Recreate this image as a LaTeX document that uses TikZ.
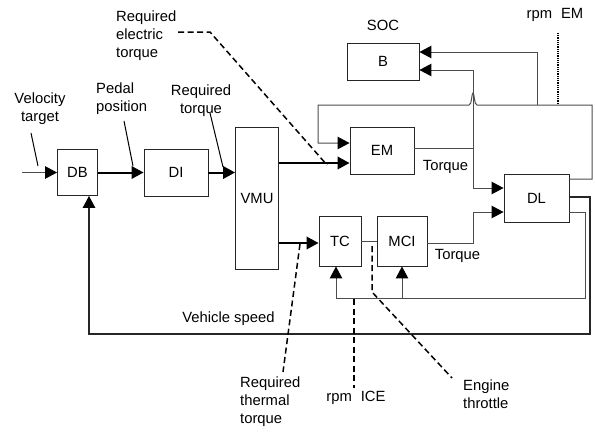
\documentclass[tikz,border=0pt]{standalone}
\usepackage{fontspec}
\setmainfont{Liberation Sans}
\usetikzlibrary{arrows.meta,calc}
\begin{document}
\begin{tikzpicture}[x=1pt,y=-1pt,
  font=\fontsize{14.8}{18}\selectfont,
  box/.style={draw=black!85,line width=0.9pt,inner sep=0pt,anchor=center},
  thin/.style={draw=black!70,line width=1pt},
  thickln/.style={draw=black,line width=2pt},
  tip/.style={-{Triangle[length=12pt,width=12.5pt,black]}},
  leader/.style={draw=black,line width=1pt},
  dashln/.style={draw=black,line width=1.5pt,dash pattern=on 6pt off 3.5pt},
  lbl/.style={inner sep=0pt,align=left}]
\useasboundingbox (0,0) rectangle (595,432);
% boxes
\node[box,minimum width=40pt,minimum height=46pt] (DB) at (77.5,172.5) {DB};
\node[box,minimum width=64pt,minimum height=47pt] (DI) at (176,172.5) {DI};
\node[box,minimum width=43pt,minimum height=142pt] (VMU) at (257,198) {VMU};
\node[box,minimum width=72pt,minimum height=37pt] (B) at (383,61.5) {B};
\node[box,minimum width=64pt,minimum height=47pt] (EM) at (382,150.5) {EM};
\node[box,minimum width=65pt,minimum height=48pt] (DL) at (536.5,198) {DL};
\node[box,minimum width=42pt,minimum height=50pt] (TC) at (340,241) {TC};
\node[box,minimum width=50pt,minimum height=50pt] (MCI) at (402,241) {MCI};
% labels
\node[lbl,align=center] (lvel) at (40,109) {Velocity\\target};
\node[lbl,anchor=west] (lped) at (96,99) {Pedal\\position};
\node[lbl,align=center] (lreq) at (201,100.5) {Required\\torque};
\node[lbl,anchor=west] (lret) at (116,36) {Required\\electric\\torque};
\node[lbl] (lsoc) at (383,25) {SOC};
\node[lbl] (lrpmem) at (555,15) {rpm\hspace{0.6em}EM};
\node[lbl] (ltq1) at (445.5,167) {Torque};
\node[lbl] (ltq2) at (457.5,256) {Torque};
\node[lbl] (lvs) at (228.5,319) {Vehicle speed};
\node[lbl,anchor=west] (lrtt) at (240,402) {Required\\thermal\\torque};
\node[lbl] (lrpmice) at (356,398) {rpm\hspace{0.6em}ICE};
\node[lbl,anchor=west] (leng) at (463,394) {Engine\\throttle};
% coordinates
\coordinate (vin) at (22,172.5);
\coordinate (jB) at (473,70);
\coordinate (jE) at (473,148);
\coordinate (jD) at (473,188);
\coordinate (jM) at (473,243);
\coordinate (jM2) at (473,212);
\coordinate (lp1) at (592,179);
\coordinate (lp2) at (592,105);
\coordinate (lp3) at (318,105);
\coordinate (lp4) at (318,143);
\coordinate (bj) at (537,105);
\coordinate (bj2) at (537,52);
\coordinate (vs1) at (590,197);
\coordinate (vs2) at (590,334);
\coordinate (vs3) at (89,334);
\coordinate (fb1) at (585,212);
\coordinate (fb2) at (585,298);
\coordinate (fb3) at (336,298);
\coordinate (fb4) at (402,298);
% inputs
\draw[thin,tip] (vin) -- (DB.west);
\draw[thickln,tip] (DB.east) -- (DI.west);
\draw[thickln,tip] (DI.east) -- (VMU.west |- DI.east);
\draw[thickln,tip] (VMU.east |- 0,163) -- (EM.west |- 0,163);
\draw[thickln,tip] (VMU.east |- 0,243) -- (TC.west |- 0,243);
% EM output
\draw[thin] (EM.east |- jE) -- (jE);
\draw[thin] (jB) -- (jD);
\draw[thin,tip] (jB) -- (B.east |- jB);
\draw[thin,tip] (jD) -- (DL.west |- jD);
% MCI output
\draw[thin,tip] (MCI.east |- jM) -- (jM) -- (jM2) -- (DL.west |- jM2);
\draw[thin] (TC.east) -- (MCI.west);
% loop to EM with hop
\draw[thin,tip] (DL.east |- lp1) -- (lp1) -- (lp2) -- (477,105)
  .. controls (474,105) and (474.5,93) .. (473,93)
  .. controls (471.5,93) and (472,105) .. (469,105)
  -- (lp3) -- (lp4) -- (EM.west |- lp4);
\draw[thin,tip] (bj) -- (bj2) -- (B.east |- bj2);
% vehicle speed feedback
\draw[draw=black!85,line width=1.4pt,tip] (DL.east |- vs1) -- (vs1) -- (vs2) -- (vs3) -- (vs3 |- DB.south);
% rpm ICE feedback
\draw[thin] (DL.east |- fb1) -- (fb1) -- (fb2) -- (fb3);
\draw[thin,tip] (fb3) -- (fb3 |- TC.south);
\draw[thin,tip] (fb4) -- (fb4 |- MCI.south);
% leaders
\draw[leader] (31,133) -- (38,166);
\draw[leader] (124,121) -- (133,166);
\draw[leader] (210,113) -- (223,167);
\draw[dashln] (178,32) -- (210,32) -- (327,165);
\draw[dashln] (300,244) -- (283,372);
\draw[dashln] (354,299) -- (354,388);
\draw[dashln] (372,246) -- (372,292) -- (452,378);
\draw[draw=black,line width=1.6pt,dash pattern=on 1pt off 0.8pt] (558,33) -- (558,105);
\end{tikzpicture}
\end{document}
